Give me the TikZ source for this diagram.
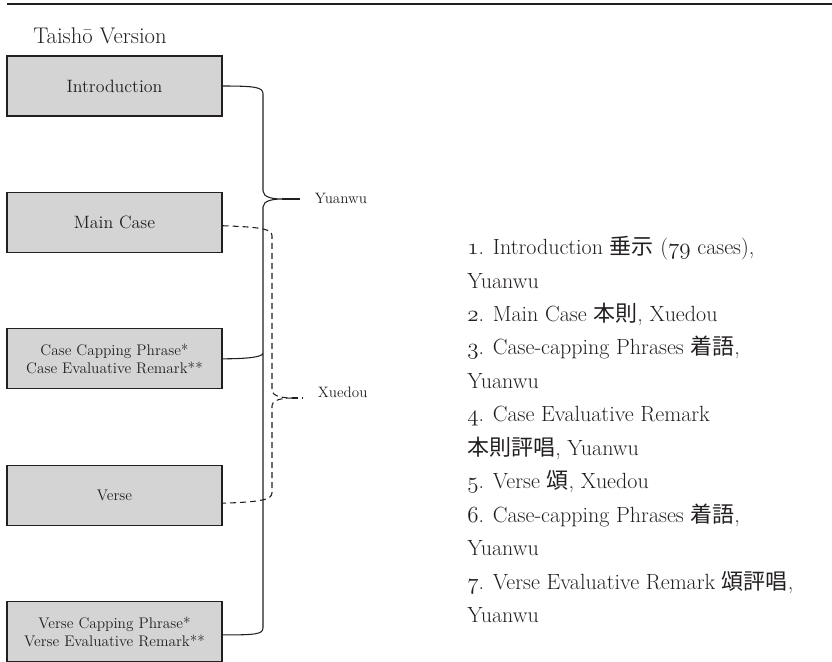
\documentclass[tikz,border=0pt]{standalone}
\usepackage{fontspec}
\newfontfamily\cjk{Noto Sans CJK JP}
\newcommand{\osnum}[1]{{\usefont{OML}{cmm}{m}{it}#1}}
\definecolor{BoxGray}{RGB}{212, 212, 213}
\definecolor{InkGray}{RGB}{35, 31, 32}
\usetikzlibrary{positioning, calc}

\begin{document}
\begin{tikzpicture}[
        node distance=56.5pt,
        part/.style={rectangle, draw=InkGray, fill=BoxGray, line width=0.8pt, minimum width=161.25pt, minimum height=45pt, inner sep=2pt, align=center, text=InkGray, font=\fontsize{13.4}{16}\selectfont},
        small/.style={part, font=\fontsize{11.5}{13.5}\selectfont},
        who/.style={anchor=base west, inner sep=2pt, text=InkGray, font=\fontsize{11.3}{13}\selectfont},
        brace/.style={InkGray, line width=0.8pt},
        dbrace/.style={brace, dash pattern=on 4.5pt off 3pt}
    ]
        \useasboundingbox (0,0) rectangle (624pt,-495.75pt);
        \draw[InkGray, line width=1.2pt] (5.25pt,-3pt) -- (624pt,-3pt);
        \node[anchor=base west, inner sep=0pt, text=InkGray, font=\fontsize{17}{20}\selectfont] (title) at (24.75pt,-32.25pt) {Taishō Version};

        \node[part] (intro) at (85.875pt,-64.5pt) {Introduction};
        \node[part, below=of intro] (maincase) {Main Case};
        \node[small, below=of maincase] (casecap) {Case Capping Phrase*\\Case Evaluative Remark**};
        \node[small, below=of casecap] (verse) {Verse};
        \node[small, below=of verse] (versecap) {Verse Capping Phrase*\\Verse Evaluative Remark**};

        \node[who] (yuanwu) at (234pt,-152.25pt) {Yuanwu};
        \node[who] (xuedou) at (236.25pt,-297.75pt) {Xuedou};
        \coordinate (ytip) at (211.5pt,-149.25pt);
        \coordinate (yspine) at (197.25pt,-149.25pt);
        \coordinate (dtip) at (219pt,-298.5pt);
        \coordinate (dspine) at (204pt,-298.5pt);

        % Yuanwu brace
        \draw[brace] (intro.east) .. controls ($(intro.east -| yspine)+(-5pt,0)$) and ($(intro.east -| yspine)+(0,-1pt)$) .. ($(intro.east -| yspine)+(0,-6pt)$)
            -- ($(yspine)+(0,6pt)$) .. controls ($(yspine)+(0,1pt)$) and ($(ytip)+(-6pt,0)$) .. (ytip)
            .. controls ($(ytip)+(-6pt,0)$) and ($(yspine)+(0,-1pt)$) .. ($(yspine)+(0,-6pt)$)
            -- ($(versecap.east -| yspine)+(0,3pt)$) .. controls ($(versecap.east -| yspine)+(0,-2pt)$) and ($(versecap.east -| yspine)+(-5pt,-2.5pt)$) .. ([yshift=-2.5pt]versecap.east);
        \draw[brace] (casecap.east) .. controls ($(casecap.east -| yspine)+(-10pt,0)$) and ($(casecap.east -| yspine)+(-1pt,1.5pt)$) .. ($(casecap.east -| yspine)+(0,4pt)$);
        \draw[brace, shorten >=9pt] (ytip) -- (ytip -| yuanwu.west);

        % Xuedou brace
        \draw[dbrace] ([yshift=-2.5pt]maincase.east) .. controls ($(maincase.east -| dspine)+(-8pt,-3.5pt)$) and ($(maincase.east -| dspine)+(0,-5pt)$) .. ($(maincase.east -| dspine)+(0,-10pt)$)
            -- ($(dspine)+(0,6pt)$) .. controls ($(dspine)+(0,1pt)$) and ($(dtip)+(-6pt,0)$) .. (dtip)
            .. controls ($(dtip)+(-6pt,0)$) and ($(dspine)+(0,-1pt)$) .. ($(dspine)+(0,-6pt)$)
            -- ($(verse.east -| dspine)+(0,2pt)$) .. controls ($(verse.east -| dspine)+(0,-3pt)$) and ($(verse.east -| dspine)+(-6pt,-5pt)$) .. ([yshift=-6pt]verse.east);
        \draw[dbrace, shorten >=9pt] (dtip) -- (dtip -| xuedou.west);

        \node[anchor=north west, align=left, inner sep=0pt, text=InkGray, font=\fontsize{16.5}{25.1}\selectfont] (notes) at (350.25pt,-177pt)
            {\osnum{1}. Introduction {\cjk 垂示} (\osnum{79} cases),\\
             Yuanwu\\
             \osnum{2}. Main Case {\cjk 本則}, Xuedou\\
             \osnum{3}. Case-capping Phrases {\cjk 着語},\\
             Yuanwu\\
             \osnum{4}. Case Evaluative Remark\\
             {\cjk 本則評唱}, Yuanwu\\
             \osnum{5}. Verse {\cjk 頌}, Xuedou\\
             \osnum{6}. Case-capping Phrases {\cjk 着語},\\
             Yuanwu\\
             \osnum{7}. Verse Evaluative Remark {\cjk 頌評唱},\\
             Yuanwu};
    \end{tikzpicture}
\end{document}
